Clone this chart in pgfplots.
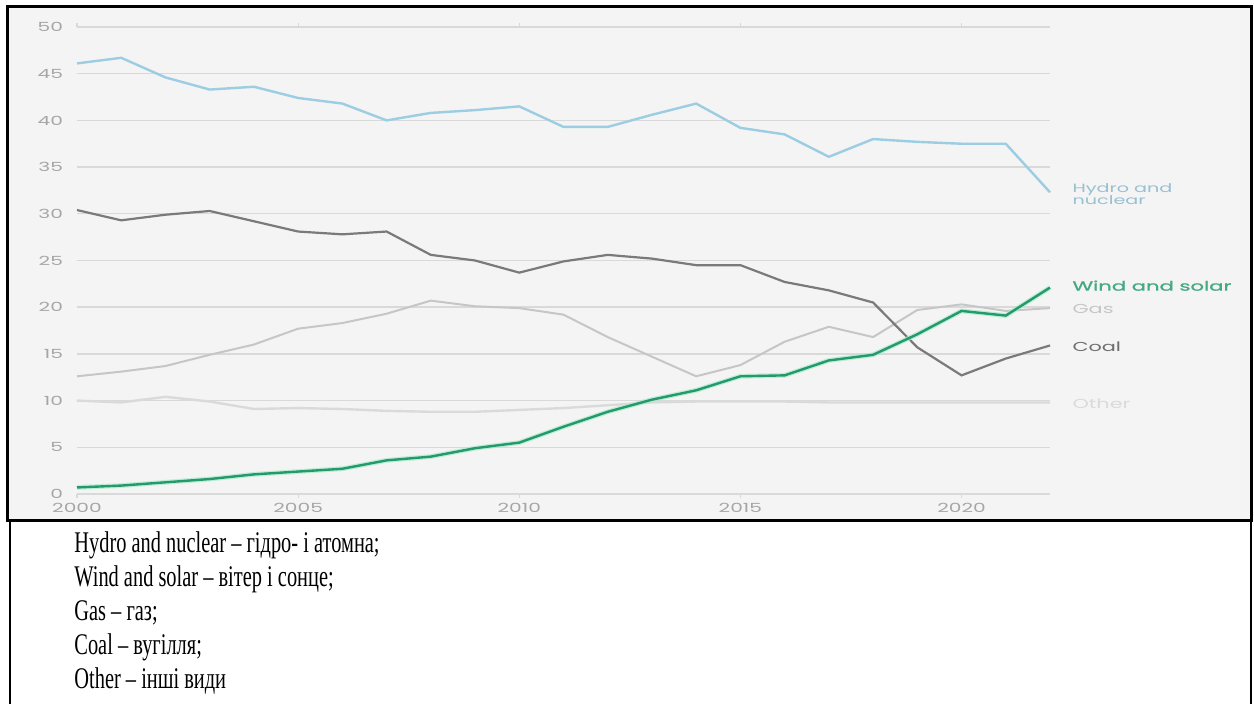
\documentclass[border=0pt]{standalone}
\usepackage{pgfplots}
\pgfplotsset{compat=1.18}
\usepackage{pgfplotstable}
\usepackage{graphicx}
\usepackage{fontspec}
\setmainfont{Liberation Serif}
\newfontfamily\chartfont[FakeStretch=1.6]{Poppins}
\newfontfamily\chartfontb[FakeStretch=1.6, FakeBold=1.2]{Poppins}
\definecolor{bgc}{HTML}{F4F4F4}
\definecolor{gridc}{HTML}{D9D9D9}
\definecolor{tickc}{HTML}{A6A6A6}
\definecolor{hydroc}{HTML}{9CCDE2}
\definecolor{coalc}{HTML}{7A7A7A}
\definecolor{gasc}{HTML}{C6C6C6}
\definecolor{otherc}{HTML}{DADADA}
\definecolor{windc}{HTML}{249A6C}
\definecolor{glowc}{HTML}{A6EACB}
\pgfplotstableread{
year hydro coal gas other wind
2000 46.1 30.4 12.6 10.0 0.7
2001 46.7 29.3 13.1 9.8 0.9
2002 44.6 29.9 13.7 10.4 1.25
2003 43.3 30.3 14.9 9.9 1.6
2004 43.6 29.2 16.0 9.1 2.1
2005 42.4 28.1 17.7 9.2 2.4
2006 41.8 27.8 18.3 9.1 2.7
2007 40.0 28.1 19.3 8.9 3.6
2008 40.8 25.6 20.7 8.8 4.0
2009 41.1 25.0 20.1 8.8 4.9
2010 41.5 23.7 19.9 9.0 5.5
2011 39.3 24.9 19.2 9.2 7.2
2012 39.3 25.6 16.8 9.5 8.8
2013 40.6 25.2 14.7 9.8 10.1
2014 41.8 24.5 12.6 9.9 11.1
2015 39.2 24.5 13.8 9.9 12.6
2016 38.5 22.7 16.3 9.9 12.7
2017 36.1 21.8 17.9 9.8 14.3
2018 38.0 20.5 16.8 9.8 14.9
2019 37.7 15.7 19.7 9.8 17.1
2020 37.5 12.7 20.3 9.8 19.6
2021 37.5 14.5 19.6 9.8 19.1
2022 32.3 15.9 19.9 9.8 22.1
}\datatable
\begin{document}
\begin{tikzpicture}[x=0.5pt,y=0.5pt]
\fill[white] (0,0) rectangle (1254,704);
\fill[bgc] (7,697) rectangle (1251,183);
\begin{axis}[
  at={(38.5pt,105pt)}, anchor=south west,
  scale only axis, width=486.5pt, height=233.5pt,
  xmin=2000, xmax=2022, ymin=0, ymax=50,
  axis line style={draw=none},
  ymajorgrids, grid style={color=gridc, line width=0.7pt},
  ytick={0,5,...,50}, xtick={2000,2005,2010,2015,2020},
  ytick style={draw=none},
  xtick style={color=gridc, line width=0.6pt},
  tick align=outside, major tick length=2pt,
  /pgf/number format/assume math mode=true,
  /pgf/number format/set thousands separator={},
  ticklabel style={font=\chartfont\fontsize{6.3}{6.3}\selectfont, text=tickc},
  yticklabel style={xshift=-1.5pt},
  xticklabel style={yshift=1pt},
  clip=false,
]
\draw[gridc, line width=0.7pt] (axis cs:2000,0) -- (axis cs:2022,0);
\addplot[otherc, line width=1.2pt] table[x=year,y=other]{\datatable};
\addplot[gasc, line width=1pt] table[x=year,y=gas]{\datatable};
\addplot[coalc, line width=1.1pt] table[x=year,y=coal]{\datatable};
\addplot[hydroc, line width=1.2pt] table[x=year,y=hydro]{\datatable};
\addplot[glowc, line width=2.4pt, opacity=0.7] table[x=year,y=wind]{\datatable};
\addplot[windc, line width=1.2pt] table[x=year,y=wind]{\datatable};
\node[anchor=west, align=left, text=hydroc!90!black!90, font=\chartfont\fontsize{6}{6}\selectfont] at (axis cs:2022.35,32.1) {Hydro and\\nuclear};
\node[anchor=west, text=windc!85!white, font=\chartfontb\fontsize{6.6}{6.6}\selectfont] at (axis cs:2022.35,22.3) {Wind and solar};
\node[anchor=west, text=gasc, font=\chartfont\fontsize{6.5}{6.5}\selectfont] at (axis cs:2022.35,19.8) {Gas};
\node[anchor=west, text=coalc!90!black, font=\chartfont\fontsize{6.5}{6.5}\selectfont] at (axis cs:2022.35,15.8) {Coal};
\node[anchor=west, text=otherc, font=\chartfont\fontsize{6.5}{6.5}\selectfont] at (axis cs:2022.35,9.7) {Other};
\end{axis}
\draw[black, line width=1.5pt] (7,697) rectangle (1251,183);
\draw[black, line width=1pt] (10,183) -- (10,0);
\draw[black, line width=1pt] (1251,183) -- (1251,0);
\begin{scope}[every node/.style={anchor=base west, inner sep=0pt, font=\fontsize{15}{15}\selectfont}]
\node at (74,151) {\scalebox{0.68}[1]{Hydro and nuclear – гідро- і атомна;}};
\node at (74,117) {\scalebox{0.68}[1]{Wind and solar – вітер і сонце;}};
\node at (74,83) {\scalebox{0.68}[1]{Gas – газ;}};
\node at (74,49) {\scalebox{0.68}[1]{Coal – вугілля;}};
\node at (74,15) {\scalebox{0.68}[1]{Other – інші види}};
\end{scope}
\pgfresetboundingbox
\path[use as bounding box] (0,0) rectangle (1254,704);
\end{tikzpicture}
\end{document}
